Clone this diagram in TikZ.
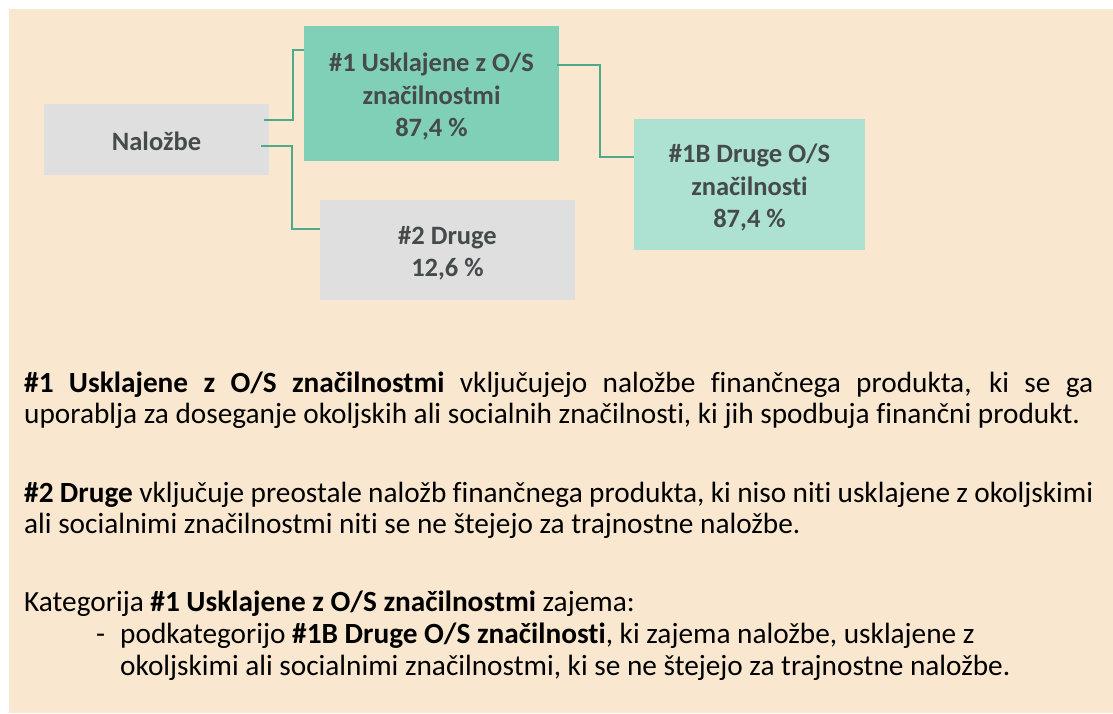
\documentclass[tikz,border=0pt]{standalone}
\usepackage{fontspec}
\setmainfont{Carlito}[Ligatures=CommonOff]
\definecolor{bg}{HTML}{F9E8CF}
\definecolor{graybox}{HTML}{DFDFDF}
\definecolor{greenbox}{HTML}{80D0B7}
\definecolor{lightgreen}{HTML}{ADE1D1}
\definecolor{boxtext}{HTML}{454A4A}
\definecolor{linkc}{HTML}{4FA98A}
\newcommand\boxtop{\rule{0pt}{25pt}}
\newcommand\boxbot{\rule[-4pt]{0pt}{4pt}}
\begin{document}
\begin{tikzpicture}[x=1pt,y=-1pt,
  box/.style={inner sep=0pt, align=center, text=boxtext,
    font=\fontsize{26.5}{32.5}\selectfont\bfseries},
  link/.style={draw=linkc, line width=1.5pt},
  para/.style={anchor=north west, inner sep=0pt, text width=1069pt, align=justify,
    font=\fontsize{29.3}{31}\selectfont, text=black},
  listtext/.style={anchor=north west, inner sep=0pt, text width=990pt, align=flush left,
    font=\fontsize{29.3}{32}\selectfont, text=black}]
\useasboundingbox (0,0) rectangle (1113,713);
\fill[bg] (9,9) rectangle (1113,713);
% boxes
\node[box, fill=graybox, minimum width=225, minimum height=71] (nal) at (156.5,139.5) {\boxtop Naložbe\boxbot};
\node[box, fill=greenbox, minimum width=255, minimum height=135] (one) at (431.5,93.5)
  {\boxtop\#1 Usklajene z O/S\\značilnostmi\\87,4 \%\boxbot};
\node[box, fill=graybox, minimum width=255, minimum height=100] (two) at (447.5,250)
  {\boxtop\#2 Druge\\12,6 \%\boxbot};
\node[box, fill=lightgreen, minimum width=231, minimum height=131] (oneb) at (749.5,184.5)
  {\boxtop\#1B Druge O/S\\značilnosti\\87,4 \%\boxbot};
% connectors
\draw[link] ([xshift=-5pt,yshift=19.5pt]nal.east) -| ([xshift=-11pt,yshift=43.5pt]one.west) -- ([yshift=43.5pt]one.west);
\draw[link] ([xshift=-8pt,yshift=-6.5pt]nal.east) -| ([xshift=-28pt,yshift=21pt]two.west) -- ([yshift=21pt]two.west);
\draw[link] ([xshift=-2pt,yshift=28.5pt]one.east) -| ([xshift=-34pt,yshift=27.5pt]oneb.west) -- ([yshift=27.5pt]oneb.west);
% text
\node[para] (p1) at (24,370.8) {\strut\textbf{\#1 Usklajene z O/S značilnostmi} vključujejo naložbe finančnega produkta, ki se ga\linebreak uporablja za doseganje okoljskih ali socialnih značilnosti, ki jih spodbuja finančni produkt.};
\node[para] (p2) at (24,480.8) {\strut\textbf{\#2 Druge} vključuje preostale naložb finančnega produkta, ki niso niti usklajene z okoljskimi\newline ali socialnimi značilnostmi niti se ne štejejo za trajnostne naložbe.};
\node[para] (p3) at (24,589.3) {\strut Kategorija \textbf{\#1 Usklajene z O/S značilnostmi} zajema:};
\node[anchor=base west, inner sep=0pt, font=\fontsize{29.3}{31}\selectfont] (dash) at (96,643) {-};
\node[listtext] (p4) at (120,620.6) {\strut podkategorijo \textbf{\#1B Druge O/S značilnosti}, ki zajema naložbe, usklajene z\\okoljskimi ali socialnimi značilnostmi, ki se ne štejejo za trajnostne naložbe.};
\end{tikzpicture}
\end{document}
